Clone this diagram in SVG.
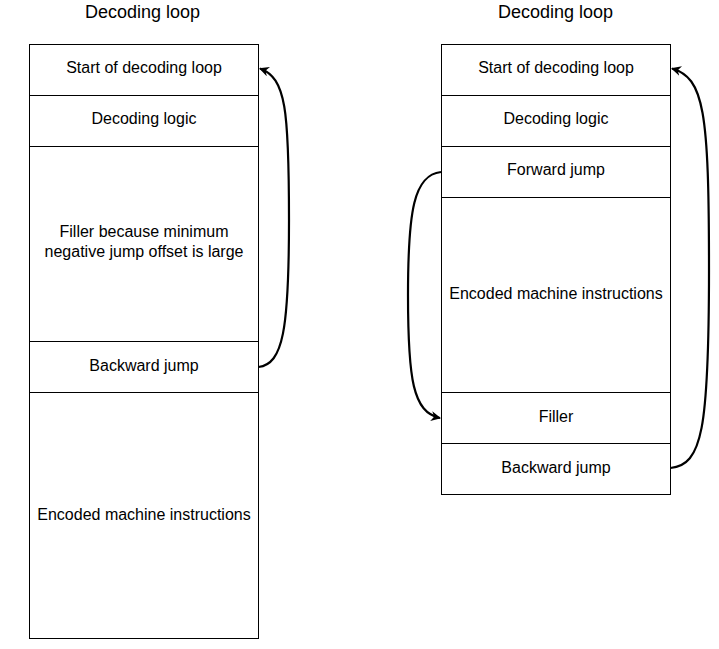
<svg xmlns="http://www.w3.org/2000/svg" width="719" height="649" viewBox="0 0 719 649">
<style>
.cell{fill:#fff;stroke:#000;stroke-width:1}
.t{font-family:"Liberation Sans",Arial,sans-serif;font-size:16px;fill:#000;text-anchor:middle;dominant-baseline:central}
.h{font-family:"Liberation Sans",Arial,sans-serif;font-size:18px;fill:#000;text-anchor:middle;dominant-baseline:central}
.e{fill:none;stroke:#000;stroke-width:2.2}
</style>
<defs>
<marker id="ah" viewBox="0 0 10 10" refX="9" refY="5" markerWidth="10" markerHeight="10" markerUnits="userSpaceOnUse" orient="auto">
<path d="M0,0 L10,5 L0,10 L3,5 Z" fill="#000"/>
</marker>
</defs>
<rect width="719" height="649" fill="#fff"/>
<g id="left">
<text class="h" x="142.5" y="12">Decoding loop</text>
<g id="l1"><rect class="cell" x="29.5" y="44.5" width="229" height="51"/><text class="t" x="144" y="67">Start of decoding loop</text></g>
<g id="l2"><rect class="cell" x="29.5" y="95.5" width="229" height="51"/><text class="t" x="144" y="118">Decoding logic</text></g>
<g id="l3"><rect class="cell" x="29.5" y="146.5" width="229" height="195"/><text class="t" x="144" y="231">Filler because minimum</text><text class="t" x="144" y="251">negative jump offset is large</text></g>
<g id="l4"><rect class="cell" x="29.5" y="341.5" width="229" height="51"/><text class="t" x="144" y="365">Backward jump</text></g>
<g id="l5"><rect class="cell" x="29.5" y="392.5" width="229" height="246"/><text class="t" x="144" y="514">Encoded machine instructions</text></g>
</g>
<g id="right">
<text class="h" x="555.5" y="12">Decoding loop</text>
<g id="r1"><rect class="cell" x="441.5" y="44.5" width="229" height="51"/><text class="t" x="556" y="67">Start of decoding loop</text></g>
<g id="r2"><rect class="cell" x="441.5" y="95.5" width="229" height="51"/><text class="t" x="556" y="118">Decoding logic</text></g>
<g id="r3"><rect class="cell" x="441.5" y="146.5" width="229" height="51"/><text class="t" x="556" y="169">Forward jump</text></g>
<g id="r4"><rect class="cell" x="441.5" y="197.5" width="229" height="195"/><text class="t" x="556" y="293">Encoded machine instructions</text></g>
<g id="r5"><rect class="cell" x="441.5" y="392.5" width="229" height="51"/><text class="t" x="556" y="416">Filler</text></g>
<g id="r6"><rect class="cell" x="441.5" y="443.5" width="229" height="51"/><text class="t" x="556" y="467">Backward jump</text></g>
</g>
<g id="connectors">
<path class="e" marker-end="url(#ah)" d="M258.5,367 C283,364 289,330 289,220 C289,110 286,78 260,68.5"/>
<path class="e" marker-end="url(#ah)" d="M441,172 C414,175 408,210 408,295 C408,380 413,412 440,418"/>
<path class="e" marker-end="url(#ah)" d="M670.5,468 C702,465 709,430 709,270 C709,110 704,78 672,68.5"/>
</g>
</svg>
